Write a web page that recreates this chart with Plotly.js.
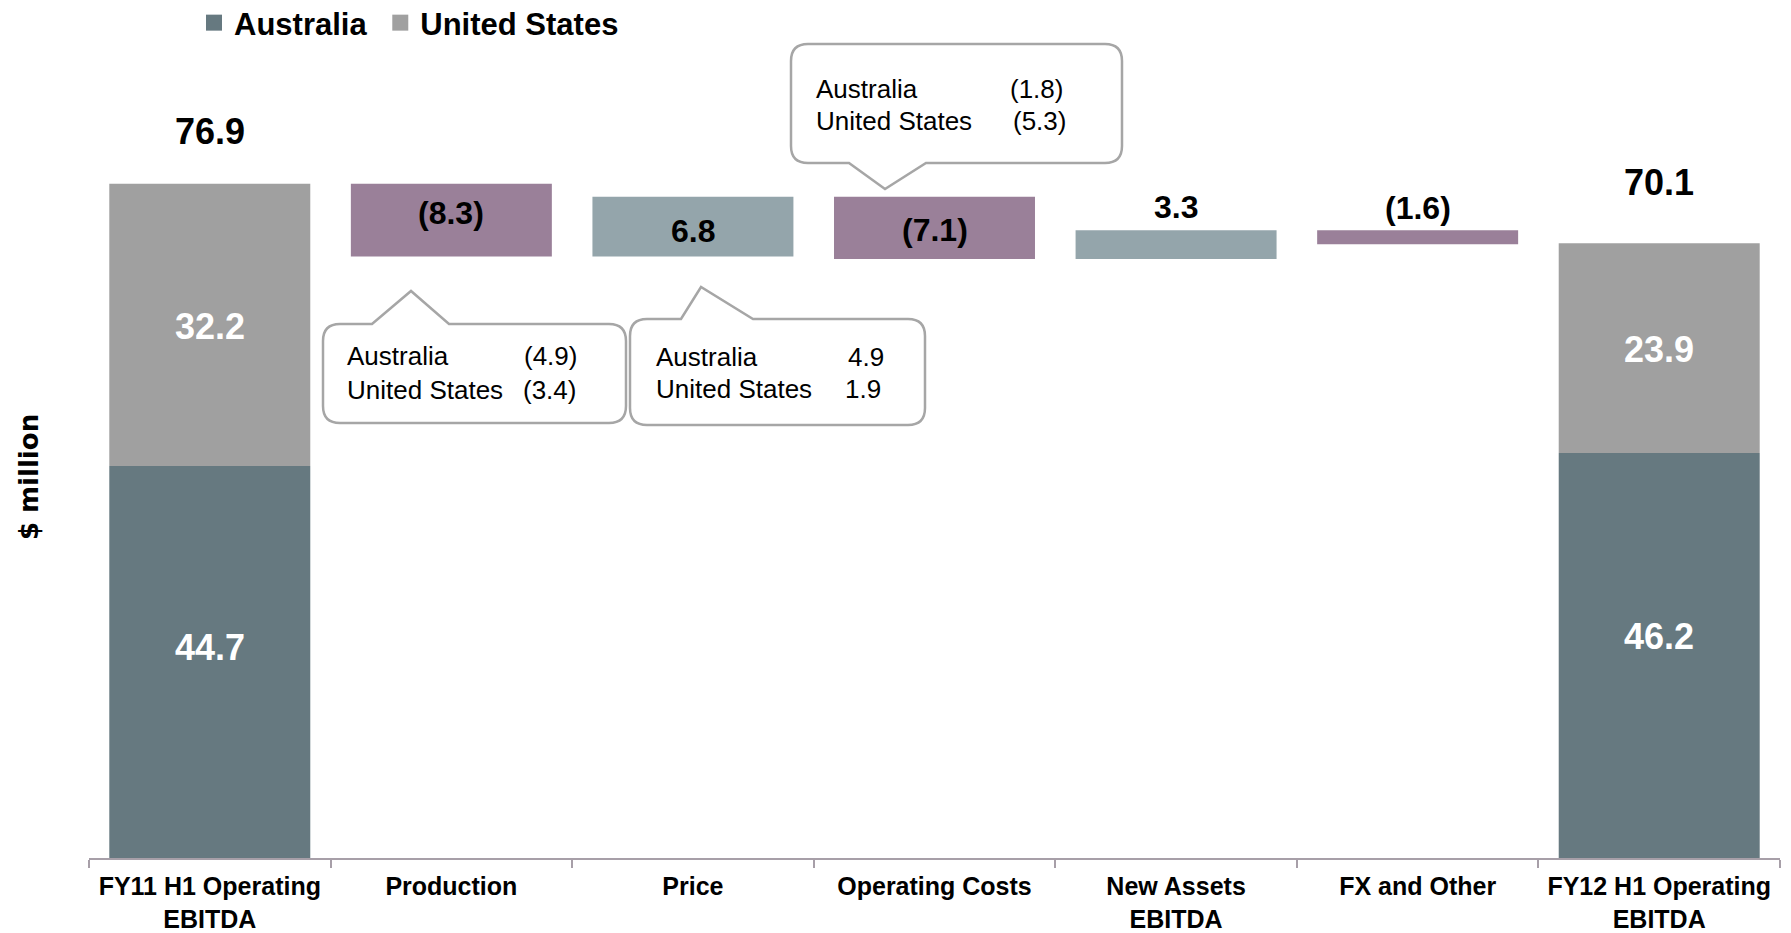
<!DOCTYPE html>
<html><head><meta charset="utf-8">
<script src="https://cdn.plot.ly/plotly-3.0.1.min.js"></script>
<style>html,body{margin:0;padding:0;background:#fff;}#chart{width:1791px;height:933px;}</style>
</head><body><div id="chart"></div>
<script>
// ---- data ----
const categories = ['FY11 H1 Operating<br>EBITDA','Production','Price','Operating Costs','New Assets<br>EBITDA','FX and Other','FY12 H1 Operating<br>EBITDA'];
const australia = [44.7, null, null, null, null, null, 46.2];
const unitedStates = [32.2, null, null, null, null, null, 23.9];
const totals = [76.9, null, null, null, null, null, 70.1];
const changes = [null, -8.3, 6.8, -7.1, 3.3, -1.6, null];
const changeLabels = [null, '(8.3)', '6.8', '(7.1)', '3.3', '(1.6)', null];
const seriesNames = ['Australia', 'United States'];
const calloutCategories = ['Production', 'Price', 'Operating Costs'];
const calloutAustralia = ['(4.9)', '4.9', '(1.8)'];
const calloutUnitedStates = ['(3.4)', '1.9', '(5.3)'];

// ---- style ----
const C_AUS = '#667980', C_US = '#A0A0A0', C_NEG = '#9A8099', C_POS = '#94A5AB';
const FONT = 'Liberation Sans, Arial, sans-serif';
const L = 89, R = 11, T = 96, B = 75, W = 1791, H = 933;
const plotW = W - L - R, plotH = H - T - B;
const yMax = 86.9;
const px = x => (x - L) / plotW;
const py = y => (H - B - y) / plotH;

// floating bars for changes
let running = totals[0];
const fx = [], fbase = [], flen = [], fcol = [], fmid = [], ftop = [];
changes.forEach((d, i) => {
  if (d === null) return;
  const next = running + d;
  fx.push(categories[i]);
  fbase.push(Math.min(running, next));
  flen.push(Math.abs(d));
  fcol.push(d < 0 ? C_NEG : C_POS);
  fmid.push((running + next) / 2);
  ftop.push(Math.max(running, next));
  running = next;
});

const traces = [
  {type:'bar', name:seriesNames[0], x:categories, y:australia, base:categories.map(()=>0),
   marker:{color:C_AUS}, hoverinfo:'skip', showlegend:false},
  {type:'bar', name:seriesNames[1], x:categories, y:unitedStates, base:australia.map(v=>v===null?0:v),
   marker:{color:C_US}, hoverinfo:'skip', showlegend:false},
  {type:'bar', name:'Change', x:fx, y:flen, base:fbase, marker:{color:fcol}, showlegend:false, hoverinfo:'skip'},
  // legend entries (square swatches)
  {type:'scatter', mode:'markers', name:seriesNames[0] + '\u00a0', x:[categories[0]], y:[null],
   marker:{symbol:'square', size:16, color:C_AUS}, hoverinfo:'skip'},
  {type:'scatter', mode:'markers', name:seriesNames[1], x:[categories[0]], y:[null],
   marker:{symbol:'square', size:16, color:C_US}, hoverinfo:'skip'}
];

const ann = [];
// totals above end bars
const totalShift = [52, 0, 0, 0, 0, 0, 61];
totals.forEach((v, i) => {
  if (v === null) return;
  ann.push({x:categories[i], y:v, xref:'x', yref:'y', text:'<b>'+v.toFixed(1)+'</b>', showarrow:false,
    yshift:totalShift[i], font:{family:FONT, size:36, color:'#000'}});
});
// segment labels
const ausShift = [15, 0,0,0,0,0, 19], usShift = [-2, 0,0,0,0,0, -1];
australia.forEach((v, i) => {
  if (v === null) return;
  ann.push({x:categories[i], y:v/2, text:'<b>'+v.toFixed(1)+'</b>', showarrow:false, yshift:ausShift[i],
    font:{family:FONT, size:36, color:'#fff'}});
  const u = unitedStates[i];
  ann.push({x:categories[i], y:v + u/2, text:'<b>'+u.toFixed(1)+'</b>', showarrow:false, yshift:usShift[i],
    font:{family:FONT, size:36, color:'#fff'}});
});
// change labels
const inside = [true, true, true, false, false];
const changeShift = [7, -4, -2, 23.5, 22.5];
fx.forEach((c, k) => {
  const lbl = changeLabels[categories.indexOf(c)];
  ann.push({x:c, y: inside[k] ? fmid[k] : ftop[k], text:'<b>'+lbl+'</b>', showarrow:false,
    yshift:changeShift[k], font:{family:FONT, size:32, color:'#000'}});
});

// callouts (speech bubbles)
const callouts = [
  {box:[323,324,626,423], ptr:[[372,324],[411,291],[449,324]], top:true, lx:345, vx:[522,521], ly:[356,390]},
  {box:[630,319,925,425], ptr:[[681,319],[701,287],[753,319]], top:true, lx:654, vx:[846,843], ly:[357,389]},
  {box:[791,44,1122,163], ptr:[[849,163],[885,189],[926,163]], top:false, lx:814, vx:[1008,1011], ly:[89,121]}
];
const shapes = [];
callouts.forEach((c, k) => {
  const [x0,y0,x1,y1] = c.box, r = 17;
  const P = (x,y) => px(x).toFixed(5)+','+py(y).toFixed(5);
  let d = 'M'+P(x0+r,y0);
  if (c.top) { c.ptr.forEach(p => d += ' L'+P(p[0],p[1])); }
  d += ' L'+P(x1-r,y0)+' Q'+P(x1,y0)+' '+P(x1,y0+r)+' L'+P(x1,y1-r)+' Q'+P(x1,y1)+' '+P(x1-r,y1);
  if (!c.top) { c.ptr.slice().reverse().forEach(p => d += ' L'+P(p[0],p[1])); }
  d += ' L'+P(x0+r,y1)+' Q'+P(x0,y1)+' '+P(x0,y1-r)+' L'+P(x0,y0+r)+' Q'+P(x0,y0)+' '+P(x0+r,y0)+' Z';
  shapes.push({type:'path', xref:'paper', yref:'paper', path:d, fillcolor:'#fff',
    line:{color:'#A6A6A6', width:2.5}, layer:'above'});
  const rows = [[seriesNames[0], calloutAustralia[k]], [seriesNames[1], calloutUnitedStates[k]]];
  rows.forEach((row, j) => {
    ann.push({xref:'paper', yref:'paper', x:px(c.lx), y:py(c.ly[j]), xanchor:'left', yanchor:'middle',
      text:row[0], showarrow:false, font:{family:FONT, size:26, color:'#000'}});
    ann.push({xref:'paper', yref:'paper', x:px(c.vx[j]), y:py(c.ly[j]), xanchor:'left', yanchor:'middle',
      text:row[1], showarrow:false, font:{family:FONT, size:26, color:'#000'}});
  });
});

const layout = {
  width:W, height:H, autosize:false,
  margin:{l:L, r:R, t:T, b:B, pad:0},
  paper_bgcolor:'#fff', plot_bgcolor:'#fff',
  barmode:'overlay', bargap:0.168,
  showlegend:true,
  legend:{orientation:'h', xref:'container', yref:'container', x:194/W, y:1 - 23/H, xanchor:'left', yanchor:'middle',
    font:{family:FONT, size:31, color:'#000', weight:'bold'}, bgcolor:'rgba(0,0,0,0)', traceorder:'normal',
    itemsizing:'trace'},
  xaxis:{type:'category', range:[-0.5, 6.5], tickson:'boundaries', ticks:'outside', ticklen:8, tickwidth:2,
    tickcolor:'#A79FA8', showline:true, linecolor:'#A79FA8', linewidth:2, showgrid:false, zeroline:false,
    tickangle:0, automargin:false, fixedrange:true, ticklabelstandoff:5,
    tickfont:{family:FONT, size:25, color:'#000', weight:'bold'}},
  yaxis:{range:[0, yMax], showgrid:false, zeroline:false, showline:false, ticks:'', showticklabels:false,
    automargin:false, fixedrange:true,
    title:{text:'$ million', standoff:41, font:{family:'DejaVu Sans', size:26, color:'#000', weight:'bold'}}},
  annotations:ann, shapes:shapes
};
Plotly.newPlot('chart', traces, layout, {staticPlot:true, displayModeBar:false});
</script></body></html>
